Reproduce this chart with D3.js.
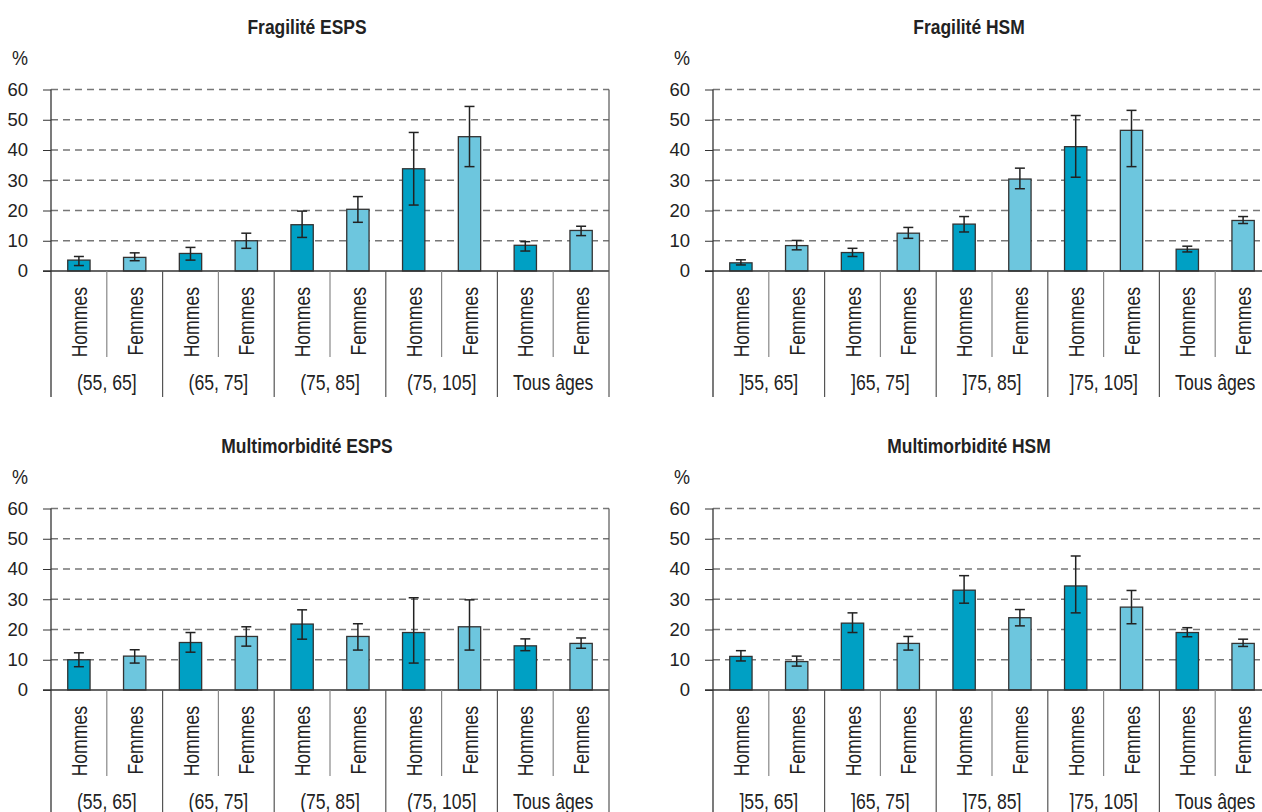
<!DOCTYPE html>
<html lang="fr">
<head>
<meta charset="UTF-8" />
<title>Fragilité et multimorbidité</title>
<script src="https://cdn.jsdelivr.net/npm/d3@7"></script>
<style>
  body { margin: 0; background: #fff; }
  text { font-family: "Liberation Sans", Arial, sans-serif; fill: #222; }
</style>
</head>
<body>
<script>
// categories
var sexes = ["Hommes", "Femmes"];
var groupsESPS = ["(55, 65]", "(65, 75]", "(75, 85]", "(75, 105]", "Tous âges"];
var groupsHSM = ["]55, 65]", "]65, 75]", "]75, 85]", "]75, 105]", "Tous âges"];
var yTicks = [0, 10, 20, 30, 40, 50, 60];

// values (%) with confidence bounds, order: H, F per age group
var fragEspsVal = [3.6, 4.5, 5.8, 10.0, 15.3, 20.4, 33.8, 44.4, 8.5, 13.4];
var fragEspsLo  = [1.8, 3.4, 3.6, 7.5, 11.1, 16.1, 21.8, 34.5, 6.6, 11.7];
var fragEspsHi  = [4.8, 6.0, 7.8, 12.5, 19.8, 24.6, 45.8, 54.4, 9.7, 14.8];

var fragHsmVal = [2.7, 8.4, 6.1, 12.5, 15.5, 30.4, 41.1, 46.5, 7.2, 16.7];
var fragHsmLo  = [2.0, 7.0, 4.8, 10.8, 12.9, 27.2, 31.0, 34.5, 6.3, 15.7];
var fragHsmHi  = [3.7, 10.1, 7.5, 14.4, 18.0, 34.0, 51.4, 53.1, 8.2, 18.0];

var multiEspsVal = [10.0, 11.2, 15.7, 17.7, 21.8, 17.7, 19.0, 20.9, 14.6, 15.4];
var multiEspsLo  = [7.7, 8.9, 12.5, 14.5, 16.8, 13.2, 8.9, 13.2, 13.0, 13.8];
var multiEspsHi  = [12.3, 13.3, 19.0, 20.9, 26.5, 21.9, 30.5, 29.8, 16.9, 17.2];

var multiHsmVal = [11.1, 9.4, 22.1, 15.4, 33.0, 23.9, 34.4, 27.4, 19.0, 15.4];
var multiHsmLo  = [9.6, 7.9, 19.0, 13.2, 28.7, 21.2, 25.5, 21.9, 17.6, 14.4];
var multiHsmHi  = [13.0, 11.2, 25.5, 17.7, 37.8, 26.6, 44.3, 32.9, 20.6, 16.8];

var colors = { Hommes: "#00a0c4", Femmes: "#6dc6de" };

var panels = [
  { title: "Fragilité ESPS", groups: groupsESPS, val: fragEspsVal, lo: fragEspsLo, hi: fragEspsHi, x0: 51, top: 89.5 },
  { title: "Fragilité HSM", groups: groupsHSM, val: fragHsmVal, lo: fragHsmLo, hi: fragHsmHi, x0: 713, top: 89.5 },
  { title: "Multimorbidité ESPS", groups: groupsESPS, val: multiEspsVal, lo: multiEspsLo, hi: multiEspsHi, x0: 51, top: 508.5 },
  { title: "Multimorbidité HSM", groups: groupsHSM, val: multiHsmVal, lo: multiHsmLo, hi: multiHsmHi, x0: 713, top: 508.5 }
];

var W = 1262, H = 812;
var plotW = 558, plotH = 181.5;
var narrow = 0.8; // condensed look of the original typeface

var svg = d3.select("body").append("svg")
  .attr("width", W).attr("height", H);

panels.forEach(function(p) {
  var g = svg.append("g").attr("transform", "translate(" + p.x0 + "," + p.top + ")");

  // one slot per (group, sex)
  var keys = [];
  p.groups.forEach(function(gr) {
    sexes.forEach(function(s) { keys.push(gr + "|" + s); });
  });
  var rows = keys.map(function(k, i) {
    return { key: k, sex: k.split("|")[1], v: p.val[i], lo: p.lo[i], hi: p.hi[i] };
  });

  var x = d3.scaleBand().domain(keys).range([0, plotW]).paddingInner(0.6).paddingOuter(0.3);
  var xg = d3.scaleBand().domain(p.groups).range([0, plotW]);
  var y = d3.scaleLinear().domain([0, 60]).range([plotH, 0]);

  // title and unit
  g.append("text")
    .attr("transform", "translate(" + (plotW / 2 - 23) + ",-56) scale(0.83,1)")
    .attr("text-anchor", "middle")
    .style("font-weight", "bold").style("font-size", "21px")
    .text(p.title);
  g.append("text")
    .attr("transform", "translate(-39,-24.5) scale(0.9,1)")
    .style("font-size", "20px")
    .text("%");

  // y axis
  var yAxis = d3.axisLeft(y).tickValues(yTicks).tickSize(8).tickPadding(15);
  var ya = g.append("g").call(yAxis);
  ya.select(".domain").remove();
  ya.selectAll(".tick line").attr("stroke", "#333");
  ya.selectAll(".tick text")
    .style("font-size", "18.5px")
    .style("font-family", "'Liberation Sans', Arial, sans-serif")
    .attr("fill", "#222");

  // dashed grid
  g.append("g").selectAll("line")
    .data(yTicks.filter(function(t) { return t > 0; }))
    .enter().append("line")
    .attr("x1", 0).attr("x2", plotW)
    .attr("y1", function(d) { return y(d); }).attr("y2", function(d) { return y(d); })
    .attr("stroke", "#777").attr("stroke-width", 1.3)
    .attr("stroke-dasharray", "7,5");

  // bars
  g.append("g").selectAll("rect")
    .data(rows).enter().append("rect")
    .attr("x", function(d) { return x(d.key); })
    .attr("y", function(d) { return y(d.v); })
    .attr("width", x.bandwidth())
    .attr("height", function(d) { return y(0) - y(d.v); })
    .attr("fill", function(d) { return colors[d.sex]; })
    .attr("stroke", "#333").attr("stroke-width", 1.3);

  // error bars
  var eb = g.append("g").selectAll("g")
    .data(rows).enter().append("g")
    .attr("transform", function(d) { return "translate(" + (x(d.key) + x.bandwidth() / 2) + ",0)"; })
    .attr("stroke", "#222").attr("stroke-width", 1.5);
  eb.append("line")
    .attr("y1", function(d) { return y(d.lo); }).attr("y2", function(d) { return y(d.hi); });
  eb.append("line")
    .attr("x1", -5).attr("x2", 5)
    .attr("y1", function(d) { return y(d.hi); }).attr("y2", function(d) { return y(d.hi); });
  eb.append("line")
    .attr("x1", -5).attr("x2", 5)
    .attr("y1", function(d) { return y(d.lo); }).attr("y2", function(d) { return y(d.lo); });

  // baseline and frame lines
  g.append("line")
    .attr("x1", -8).attr("x2", plotW)
    .attr("y1", y(0)).attr("y2", y(0))
    .attr("stroke", "#333").attr("stroke-width", 1.3);
  g.append("line")
    .attr("x1", 0).attr("x2", 0)
    .attr("y1", y(60)).attr("y2", plotH + 126)
    .attr("stroke", "#333").attr("stroke-width", 1.3);

  // separators between sexes (short) and groups (long)
  p.groups.forEach(function(gr) {
    var gx = xg(gr);
    g.append("line")
      .attr("x1", gx + xg.bandwidth() / 2).attr("x2", gx + xg.bandwidth() / 2)
      .attr("y1", plotH).attr("y2", plotH + 86)
      .attr("stroke", "#888").attr("stroke-width", 1.2);
    g.append("line")
      .attr("x1", gx + xg.bandwidth()).attr("x2", gx + xg.bandwidth())
      .attr("y1", gr === p.groups[p.groups.length - 1] ? y(60) : plotH)
      .attr("y2", plotH + 126)
      .attr("stroke", "#555").attr("stroke-width", 1.2);
  });

  // sex labels, rotated
  g.append("g").selectAll("text")
    .data(rows).enter().append("text")
    .attr("transform", function(d) {
      return "translate(" + (x(d.key) + x.bandwidth() / 2 + 8) + "," + (plotH + 16) + ") rotate(-90) scale(" + narrow + ",1)";
    })
    .attr("text-anchor", "end")
    .style("font-size", "22px")
    .text(function(d) { return d.sex; });

  // group labels
  g.append("g").selectAll("text")
    .data(p.groups).enter().append("text")
    .attr("transform", function(d) {
      return "translate(" + (xg(d) + xg.bandwidth() / 2) + "," + (plotH + 119) + ") scale(" + narrow + ",1)";
    })
    .attr("text-anchor", "middle")
    .style("font-size", "22px")
    .text(function(d) { return d; });
});
</script>
</body>
</html>
